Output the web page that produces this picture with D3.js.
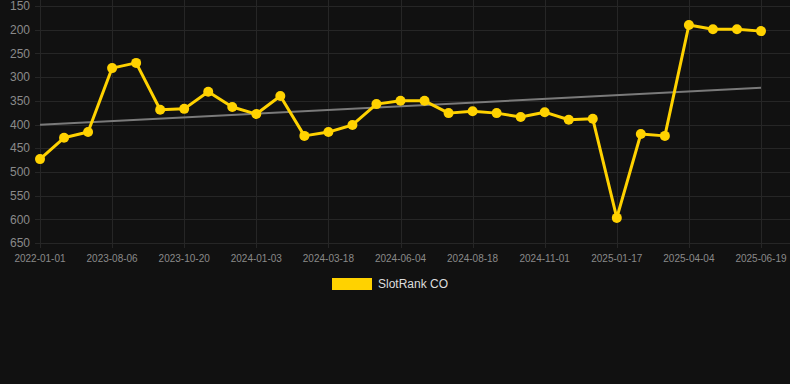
<!DOCTYPE html>
<html><head><meta charset="utf-8">
<script src="https://cdn.jsdelivr.net/npm/d3@7"></script>
<style>html,body{margin:0;padding:0;background:#111111;}svg{display:block;}</style>
</head><body>
<svg id="c" width="790" height="384"></svg>
<script>
const seriesName = "SlotRank CO";
const values = [473,428,416,281,270,369,367,331,363,378,340,424,416,401,357,350,350,376,372,376,384,374,390,388,597,420,424,190,199,199,203];
const xTickLabels = ["2022-01-01","2023-08-06","2023-10-20","2024-01-03","2024-03-18","2024-06-04","2024-08-18","2024-11-01","2025-01-17","2025-04-04","2025-06-19"];
const xTickIndices = [0,3,6,9,12,15,18,21,24,27,30];
const yTicks = [150,200,250,300,350,400,450,500,550,600,650];

(function () {
const svg = d3.select("#c");
const W = 790;
const pLeft = 40, pRight = 761, pTop = 6, pBottom = 243;

const x = d3.scaleLinear().domain([0, values.length - 1]).range([pLeft, pRight]);
const y = d3.scaleLinear().domain([150, 650]).range([pTop, pBottom]);

const grid = "#262626";
svg.append("g").selectAll("line").data(yTicks).join("line")
  .attr("x1", 35).attr("x2", W)
  .attr("y1", d => Math.round(y(d)) + 0.5).attr("y2", d => Math.round(y(d)) + 0.5)
  .attr("stroke", grid).attr("stroke-width", 1);
svg.append("g").selectAll("line").data(xTickIndices).join("line")
  .attr("x1", d => Math.round(x(d)) + 0.5).attr("x2", d => Math.round(x(d)) + 0.5)
  .attr("y1", 0).attr("y2", pBottom + 5)
  .attr("stroke", grid).attr("stroke-width", 1);

svg.append("g").selectAll("text").data(yTicks).join("text")
  .attr("x", 30).attr("y", d => y(d)).attr("dy", "0.35em")
  .attr("text-anchor", "end")
  .attr("font-family", "Arial, 'Liberation Sans', sans-serif").attr("font-size", 12)
  .attr("fill", "#8a8a8a").text(d => d);

svg.append("g").selectAll("text").data(xTickIndices).join("text")
  .attr("x", d => x(d)).attr("y", 262)
  .attr("text-anchor", "middle")
  .attr("font-family", "Arial, 'Liberation Sans', sans-serif").attr("font-size", 10)
  .attr("fill", "#8a8a8a").text((d, i) => xTickLabels[i]);

const n = values.length;
const mx = d3.mean(values, (v, i) => i), my = d3.mean(values);
let sxy = 0, sxx = 0;
values.forEach((v, i) => { sxy += (i - mx) * (v - my); sxx += (i - mx) * (i - mx); });
const slope = sxy / sxx, icpt = my - slope * mx;
svg.append("line")
  .attr("x1", x(0)).attr("y1", y(icpt))
  .attr("x2", x(n - 1)).attr("y2", y(icpt + slope * (n - 1)))
  .attr("stroke", "#7a7a7a").attr("stroke-width", 2);

const gold = "#FFD200";
svg.append("path").datum(values)
  .attr("d", d3.line().x((d, i) => x(i)).y(d => y(d)))
  .attr("fill", "none").attr("stroke", gold).attr("stroke-width", 3).attr("stroke-linejoin", "round");
svg.append("g").selectAll("circle").data(values).join("circle")
  .attr("cx", (d, i) => x(i)).attr("cy", d => y(d)).attr("r", 5)
  .attr("fill", gold);

svg.append("rect").attr("x", 332).attr("y", 278).attr("width", 40).attr("height", 12).attr("fill", gold);
svg.append("text").attr("x", 378).attr("y", 284).attr("dy", "0.35em")
  .attr("font-family", "Arial, 'Liberation Sans', sans-serif").attr("font-size", 12)
  .attr("fill", "#dddddd").text(seriesName);
})();
</script>
</body></html>
